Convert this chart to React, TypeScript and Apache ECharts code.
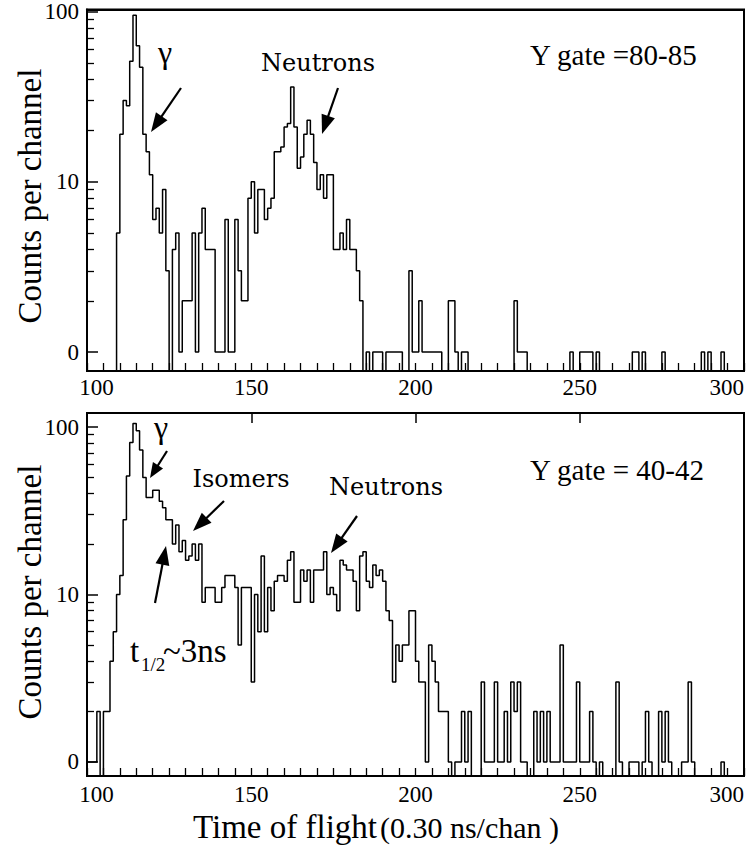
import React, { useEffect, useRef } from "react";
import * as echarts from "echarts";

// ---------- data (counts per channel, channel 100 .. 299) ----------
const channelStart = 100;

const topCounts = [
  0, 0, 0, 0, 0, 0, 0, 0, 0, 5,
  19, 30, 28, 51, 95, 63, 47, 19, 15, 11,
  6, 7, 5, 9, 3, 0, 4, 5, 1, 2,
  2, 2, 5, 1, 5, 7, 4, 4, 4, 1,
  1, 1, 6, 1, 1, 6, 3, 2, 2, 8,
  10, 5, 9, 9, 6, 7, 8, 15, 15, 16,
  21, 22, 36, 21, 12, 14, 19, 23, 19, 13,
  9, 11, 8, 11, 11, 4, 4, 5, 4, 6,
  4, 4, 3, 2, 0, 1, 0, 1, 1, 1,
  0, 1, 1, 1, 1, 1, 0, 0, 3, 1,
  1, 2, 1, 1, 1, 1, 1, 1, 0, 0,
  2, 2, 1, 0, 1, 1, 0, 0, 0, 0,
  0, 0, 0, 0, 0, 0, 0, 0, 0, 0,
  2, 1, 1, 1, 0, 0, 0, 0, 0, 0,
  0, 0, 0, 0, 0, 0, 0, 1, 0, 0,
  1, 1, 1, 1, 0, 1, 0, 0, 0, 0,
  0, 0, 0, 0, 0, 0, 1, 1, 0, 1,
  0, 0, 0, 0, 0, 1, 0, 0, 0, 0,
  0, 0, 0, 0, 0, 0, 0, 1, 0, 1,
  0, 0, 0, 1, 0, 0, 0, 0, 0, 0,
];

const bottomCounts = [
  1, 1, 1, 2, 0, 2, 2, 4, 6, 10,
  13, 28, 51, 81, 105, 95, 73, 50, 38, 38,
  42, 42, 36, 33, 28, 28, 20, 26, 18, 21,
  16, 17, 20, 16, 20, 9, 11, 11, 11, 9,
  9, 11, 13, 13, 13, 11, 5, 11, 11, 11,
  3, 10, 6, 17, 6, 11, 8, 12, 13, 13,
  12, 16, 18, 9, 9, 14, 12, 14, 9, 14,
  14, 14, 18, 10, 11, 10, 8, 16, 15, 14,
  14, 12, 8, 17, 18, 12, 11, 15, 13, 14,
  12, 8, 7, 3, 5, 4, 5, 5, 8, 8,
  4, 3, 3, 1, 5, 4, 3, 2, 2, 2,
  1, 0, 1, 1, 2, 1, 2, 0, 0, 0,
  3, 1, 1, 1, 3, 1, 1, 2, 1, 3,
  2, 3, 1, 1, 0, 0, 2, 1, 2, 1,
  2, 1, 1, 1, 5, 1, 1, 1, 1, 3,
  1, 1, 1, 2, 1, 0, 1, 0, 0, 0,
  0, 3, 1, 0, 0, 1, 1, 1, 0, 1,
  2, 1, 0, 0, 2, 1, 2, 1, 0, 0,
  0, 1, 1, 3, 1, 0, 0, 0, 0, 0,
  0, 0, 0, 1, 0, 0, 0, 0, 0, 0,
];

const xLabelValues = [100, 150, 200, 250, 300];
const xTickStep = 5;
const bottomPanelTopTicks = [150, 200, 250];
const yMajorCounts = [1, 10, 100];
const yMajorLabels = ["0", "10", "100"];
const yMinorCounts = [2, 3, 4, 5, 6, 7, 8, 9, 20, 30, 40, 50, 60, 70, 80, 90];

// ---------- styling ----------
const SERIF = "'Liberation Serif', 'Times New Roman', serif";
const WIDE_SERIF = "'DejaVu Serif', serif";
const BLACK = "#000";

const TOP_MIN = -0.111;
const TOP_MAX = 2.012;
const BOT_MIN = -0.084;
const BOT_MAX = 2.084;

function toLog(c: number, floor: number) {
  return c > 0 ? Math.log10(c) : floor;
}

function stepData(counts: number[], floor: number) {
  const pts = counts.map((c, i) => [channelStart + i, toLog(c, floor)]);
  pts.push([channelStart + counts.length, toLog(counts[counts.length - 1], floor)]);
  return pts;
}

const xTickValues: number[] = [];
for (let v = xLabelValues[0]; v <= xLabelValues[xLabelValues.length - 1]; v += xTickStep) xTickValues.push(v);

const yMajorLogs = yMajorCounts.map((c) => Math.log10(c));
const yMinorLogs = yMinorCounts.map((c) => Math.log10(c));

function yAxesFor(gridIndex: number, min: number, max: number) {
  return [
    {
      type: "value",
      gridIndex,
      min,
      max,
      position: "left",
      axisLine: { show: true, onZero: false, lineStyle: { color: BLACK, width: 2 } },
      axisTick: {
        show: true,
        inside: true,
        length: 11,
        customValues: yMajorLogs,
        lineStyle: { color: BLACK, width: 1.5 },
      },
      axisLabel: {
        show: true,
        customValues: yMajorLogs,
        margin: 8,
        color: BLACK,
        fontSize: 23,
        fontFamily: SERIF,
        formatter: (v: number) => {
          let best = 0;
          yMajorLogs.forEach((l, i) => {
            if (Math.abs(l - v) < Math.abs(yMajorLogs[best] - v)) best = i;
          });
          return yMajorLabels[best];
        },
      },
      splitLine: { show: false },
    },
    {
      type: "value",
      gridIndex,
      min,
      max,
      position: "left",
      axisLine: { show: false, onZero: false },
      axisTick: {
        show: true,
        inside: true,
        length: 7,
        customValues: yMinorLogs,
        lineStyle: { color: BLACK, width: 1.3 },
      },
      axisLabel: { show: false },
      splitLine: { show: false },
    },
  ];
}

function xAxesFor(gridIndex: number, topTicks: number[] | null, labelMargin: number) {
  return [
    {
      type: "value",
      gridIndex,
      min: 100,
      max: 300,
      position: "bottom",
      axisLine: { show: true, onZero: false, lineStyle: { color: BLACK, width: 2 } },
      axisTick: {
        show: true,
        inside: true,
        length: 8,
        customValues: xTickValues,
        lineStyle: { color: BLACK, width: 1.3 },
      },
      axisLabel: {
        show: true,
        customValues: xLabelValues,
        margin: labelMargin,
        color: BLACK,
        fontSize: 23,
        fontFamily: SERIF,
        alignMaxLabel: "right",
        formatter: (v: number) => (v === xLabelValues[0] ? "{first|" + v + "}" : String(v)),
        rich: {
          first: { fontSize: 23, fontFamily: SERIF, color: BLACK, padding: [0, 0, 0, 19] },
        },
      },
      splitLine: { show: false },
    },
    {
      type: "value",
      gridIndex,
      min: 100,
      max: 300,
      position: "top",
      axisLine: { show: true, onZero: false, lineStyle: { color: BLACK, width: 2 } },
      axisTick: topTicks
        ? {
            show: true,
            inside: true,
            length: 10,
            customValues: topTicks,
            lineStyle: { color: BLACK, width: 1.5 },
          }
        : { show: false },
      axisLabel: { show: false },
      splitLine: { show: false },
    },
  ];
}

function arrow(x1: number, y1: number, x2: number, y2: number, L = 19, W = 7) {
  const dx = x2 - x1;
  const dy = y2 - y1;
  const len = Math.hypot(dx, dy);
  const ux = dx / len;
  const uy = dy / len;
  const bx = x2 - ux * L;
  const by = y2 - uy * L;
  const nx = -uy;
  const ny = ux;
  return [
    {
      type: "line",
      shape: { x1, y1, x2: bx + ux * 2, y2: by + uy * 2 },
      style: { stroke: BLACK, lineWidth: 2.2 },
    },
    {
      type: "polygon",
      shape: {
        points: [
          [x2, y2],
          [bx + nx * W, by + ny * W],
          [bx - nx * W, by - ny * W],
        ],
      },
      style: { fill: BLACK },
    },
  ];
}

function label(text: string, x: number, y: number, size: number, family: string, align = "center", rotation = 0) {
  return {
    type: "text",
    x,
    y,
    rotation,
    style: {
      text,
      fontSize: size,
      fontFamily: family,
      fill: BLACK,
      align,
      verticalAlign: "middle",
    },
  };
}

export default function App() {
  const ref = useRef<HTMLDivElement>(null);

  useEffect(() => {
    document.body.style.margin = "0";
    if (!ref.current) return;
    const chart = echarts.init(ref.current, null, { renderer: "svg" });

    const lineStyle = { color: BLACK, width: 1.5 };

    const option = {
      animation: false,
      backgroundColor: "#fff",
      textStyle: { fontFamily: SERIF },
      grid: [
        {
          left: 87,
          right: 6,
          top: 8,
          height: 363,
          show: true,
          borderColor: BLACK,
          borderWidth: 2,
          backgroundColor: "transparent",
        },
        {
          left: 87,
          right: 6,
          top: 413,
          height: 363,
          show: true,
          borderColor: BLACK,
          borderWidth: 2,
          backgroundColor: "transparent",
        },
      ],
      xAxis: [...xAxesFor(0, null, 5), ...xAxesFor(1, bottomPanelTopTicks, 7)],
      yAxis: [...yAxesFor(0, TOP_MIN, TOP_MAX), ...yAxesFor(1, BOT_MIN, BOT_MAX)],
      series: [
        {
          type: "line",
          xAxisIndex: 0,
          yAxisIndex: 0,
          step: "end",
          showSymbol: false,
          symbol: "none",
          clip: true,
          lineStyle,
          data: stepData(topCounts, TOP_MIN),
        },
        {
          type: "line",
          xAxisIndex: 2,
          yAxisIndex: 2,
          step: "end",
          showSymbol: false,
          symbol: "none",
          clip: true,
          lineStyle,
          data: stepData(bottomCounts, BOT_MIN),
        },
      ],
      graphic: [
        // axis titles
        label("Counts per channel", 30, 196, 33, SERIF, "center", Math.PI / 2),
        label("Counts per channel", 30, 592, 33, SERIF, "center", Math.PI / 2),
        {
          type: "text",
          x: 193,
          y: 827,
          style: {
            text: "{a|Time of flight}{b|(0.30 ns/chan )}",
            verticalAlign: "middle",
            align: "left",
            fill: BLACK,
            rich: {
              a: { fontSize: 33, fontFamily: SERIF, fill: BLACK },
              b: { fontSize: 30, fontFamily: SERIF, fill: BLACK, padding: [0, 0, 0, 3] },
            },
          },
        },
        // top panel annotations
        label("γ", 165, 52, 32, SERIF),
        label("Neutrons", 318, 63, 24, WIDE_SERIF),
        label("Y gate =80-85", 530, 55, 29, SERIF, "left"),
        ...arrow(181, 88, 151, 132),
        ...arrow(338, 88, 322, 134),
        // bottom panel annotations
        label("γ", 161, 427, 32, SERIF),
        label("Isomers", 241, 479, 24, WIDE_SERIF),
        label("Neutrons", 386, 487, 24, WIDE_SERIF),
        label("Y gate = 40-42", 530, 470, 29, SERIF, "left"),
        ...arrow(167, 451, 150, 478, 15, 6),
        ...arrow(224, 501, 193, 531),
        ...arrow(357, 516, 331, 553),
        ...arrow(155, 603, 166, 546),
        label("t", 130, 651, 33, SERIF, "left"),
        label("1/2", 141, 664, 19, SERIF, "left"),
        label("~3ns", 163, 651, 33, SERIF, "left"),
      ],
    };

    chart.setOption(option as any);
    return () => chart.dispose();
  }, []);

  return <div ref={ref} style={{ width: 750, height: 847 }} />;
}
